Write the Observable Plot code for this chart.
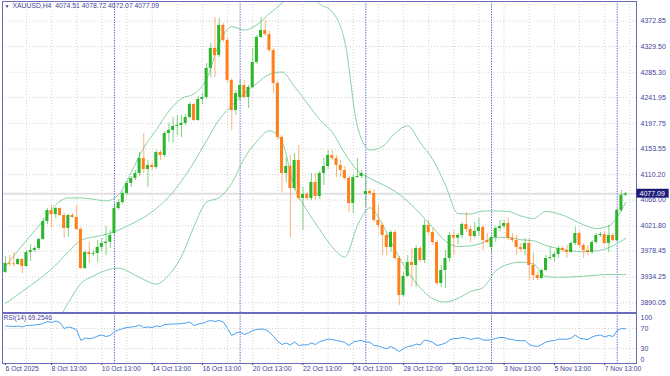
<!DOCTYPE html>
<html><head><meta charset="utf-8">
<script src="https://cdn.jsdelivr.net/npm/d3@7"></script>
<script src="https://cdn.jsdelivr.net/npm/@observablehq/plot@0.6"></script>
<style>
html,body{margin:0;padding:0;background:#fff;}
#wrap{position:relative;width:670px;height:376px;overflow:hidden;background:#fff;}
#main,#rsi{position:absolute;left:0;}
#main{top:0;}
#rsi{top:312px;}
</style></head><body>
<div id="wrap"><div id="main"></div><div id="rsi"></div></div>
<script>
// ---------- DATA ----------
const symbol = "XAUUSD,H4";
const lastBar = {open: 4074.51, high: 4078.72, low: 4072.07, close: 4077.09};
const rsiLast = 69.2546;

const opens = [3942.0,3957.5,3956.6,3955.7,3964.3,3952.3,3976.3,3979.7,3983.1,3998.6,
4029.4,4048.3,4041.4,4051.7,4039.7,4017.4,4039.7,4036.3,4015.7,3948.8,
3976.3,3972.9,3974.6,3985.0,3991.7,3994.0,4008.8,4051.7,4062.0,4077.4,
4094.6,4103.2,4111.7,4137.4,4118.6,4125.4,4122.0,4147.7,4142.6,4180.3,
4185.5,4192.3,4194.0,4197.5,4207.7,4230.0,4202.6,4238.6,4242.0,4291.8,
4326.1,4314.0,4365.5,4339.8,4271.2,4219.7,4242.0,4262.6,4242.0,4259.2,
4302.0,4344.9,4356.9,4350.0,4322.6,4266.0,4173.5,4111.7,4123.7,4086.0,
4134.0,4068.9,4075.7,4068.9,4096.3,4072.3,4111.7,4123.7,4142.6,4137.4,
4125.4,4116.9,4103.2,4060.3,4104.9,4106.6,4075.7,4080.9,4077.4,4031.2,
4022.6,4005.4,3984.9,4010.6,3966.0,3902.5,3935.1,3959.2,3954.0,3983.1,
3962.6,4022.6,4010.6,3993.4,3923.1,3945.4,3966.0,4005.4,4001.0,4005.4,
4024.3,4015.7,4003.7,4012.3,4019.1,3996.9,3984.9,4002.0,4017.4,4020.9,
4026.0,4000.3,3996.9,3984.9,3981.4,3991.7,3954.0,3936.8,3931.7,3945.4,
3966.0,3967.7,3972.9,3983.1,3979.7,3976.3,3991.7,4008.8,3988.3,3979.7,
3976.3,3993.4,4005.4,4007.1,3991.7,4005.4,3996.9,4048.3,4074.51];
const highs = [3969.4,3971.1,3976.3,3966.0,3966.0,3979.7,3990.0,3986.6,4000.3,4034.6,
4051.7,4056.9,4053.4,4053.4,4043.1,4041.4,4043.1,4056.9,4019.1,3979.7,
3993.4,3979.7,3996.9,4000.3,4020.9,4014.0,4056.9,4067.1,4080.9,4098.0,
4106.6,4116.9,4147.7,4180.3,4134.0,4130.6,4151.2,4151.2,4183.7,4197.5,
4207.7,4211.2,4211.2,4212.9,4233.5,4231.7,4243.8,4248.9,4300.3,4334.6,
4379.2,4377.5,4368.9,4343.2,4274.6,4254.0,4271.2,4271.2,4262.6,4326.1,
4348.3,4379.2,4374.1,4355.2,4326.1,4269.5,4176.9,4139.2,4142.6,4146.0,
4159.7,4087.7,4079.1,4111.7,4111.7,4115.2,4137.4,4151.2,4151.2,4142.6,
4134.0,4123.7,4106.6,4108.3,4137.4,4116.9,4111.7,4084.3,4084.3,4056.9,
4026.0,4008.8,4014.0,4014.0,3969.4,3942.0,3971.1,3983.1,3988.3,3986.6,
4031.2,4031.2,4017.4,3996.9,3954.0,3979.7,4010.6,4014.0,4008.8,4027.7,
4044.9,4020.9,4027.7,4034.6,4022.6,4008.8,4005.4,4020.9,4031.2,4031.2,
4034.6,4008.8,4005.4,3991.7,4000.3,4000.3,3974.6,3942.0,3948.8,3971.1,
3985.0,3976.3,3986.6,3986.6,3988.3,3995.1,4019.1,4012.3,3991.7,3988.3,
3996.9,4008.8,4010.6,4012.3,4022.6,4008.8,4051.7,4082.6,4078.72];
const lows = [3940.3,3952.3,3952.3,3954.0,3940.3,3950.6,3960.9,3976.3,3979.7,3996.9,
4024.3,4019.1,4034.6,4038.0,4000.3,4002.0,4034.6,4014.0,3947.1,3947.1,
3957.5,3969.4,3959.2,3976.3,3971.1,3983.1,4006.0,4048.3,4058.6,4074.0,
4087.7,4099.7,4106.6,4111.7,4087.7,4116.9,4118.6,4134.0,4139.2,4164.9,
4163.2,4176.9,4173.4,4194.0,4204.3,4200.9,4200.9,4230.0,4238.6,4276.3,
4276.3,4310.6,4336.3,4267.7,4185.5,4211.2,4236.9,4240.3,4223.2,4257.4,
4298.6,4343.2,4346.6,4319.2,4248.9,4170.0,4079.1,4096.3,4002.0,4082.6,
4065.4,4014.0,4065.4,4065.4,4065.4,4067.1,4091.2,4118.6,4134.0,4104.9,
4104.9,4099.7,4044.9,4043.1,4103.2,4103.2,4053.4,4074.0,4027.7,4017.4,
3971.1,3971.1,3976.3,3962.6,3885.4,3899.1,3933.4,3918.0,3916.3,3959.2,
3957.5,4005.4,3988.3,3919.7,3916.3,3914.6,3959.2,3971.1,3990.0,4000.3,
4010.6,3993.4,4000.3,4003.7,3979.7,3991.7,3974.6,3993.4,4012.3,4017.4,
3996.9,3993.4,3971.1,3976.3,3971.1,3928.3,3928.3,3928.3,3930.0,3943.7,
3962.6,3959.2,3966.0,3976.3,3966.0,3974.6,3988.3,3984.9,3966.0,3971.1,
3972.9,3990.0,4002.0,3990.0,3976.3,3995.1,3993.4,4044.9,4072.07];
const closes = [3957.5,3956.6,3955.7,3964.3,3952.3,3976.3,3979.7,3983.1,3998.6,4029.4,
4048.3,4041.4,4051.7,4039.7,4017.4,4039.7,4036.3,4015.7,3948.8,3976.3,
3972.9,3974.6,3985.0,3991.7,3994.0,4005.4,4051.7,4062.0,4077.4,4094.6,
4103.2,4111.7,4137.4,4118.6,4125.4,4122.0,4147.7,4142.6,4180.3,4185.5,
4192.3,4194.0,4197.5,4207.7,4230.0,4202.6,4238.6,4242.0,4291.8,4326.1,
4314.0,4365.5,4339.8,4271.2,4219.7,4248.9,4262.6,4242.0,4259.2,4302.0,
4344.9,4356.9,4350.0,4322.6,4266.0,4173.5,4111.7,4123.7,4086.0,4134.0,
4068.9,4075.7,4068.9,4096.3,4072.3,4111.7,4123.7,4142.6,4137.4,4125.4,
4116.9,4103.2,4060.3,4104.9,4106.6,4111.7,4080.9,4077.4,4031.2,4022.6,
4005.4,3984.9,4010.6,3966.0,3902.5,3935.1,3959.2,3954.0,3983.1,3962.6,
4022.6,4010.6,3993.4,3923.1,3945.4,3966.0,4005.4,4001.0,4005.4,4024.3,
4015.7,4003.7,4012.3,4019.1,3996.9,3993.4,4002.0,4017.4,4020.9,4026.0,
4000.3,3996.9,3984.9,3981.4,3991.7,3954.0,3936.8,3931.7,3945.4,3966.0,
3967.7,3972.9,3983.1,3979.7,3976.3,3991.7,4008.8,3988.3,3979.7,3976.3,
3993.4,4005.4,4007.1,3991.7,4005.4,3996.9,4048.3,4074.51,4077.09];

const rsiValues = [75,74.5,74,75,73,76,76.5,77,78,80,
84,82,85,82,70,73,71,67,46,51,
50,51,55,57,54,56,64,67,70,72,
73,74,77,72,73,72,75,74,78,78.5,
79,79,80,81,83,76,79,80,84,86,
84,86,83,70,56,61,63,58,61,66,
68,69,68,63,54,44,38,41,37,43,
36,37.5,37,41,38,44,46,49,48,46,
44.5,42,36,43,45,46,43,42.5,36,35,
32,29.5,34,29,24,30,34,35,39,37,
47,45,42,36,38,41,47,50,50,52,
51,48,50,51,47,46.5,48,50,52,52,
49,48,46,45.5,46,38,35,34,38,43,
45,46,49,48.5,48.5,51,57,51,49,48,
53,56,57,53,56,54,66,70,69.25];

// Bollinger Bands (20,2) read at every third bar
const bandBars = [0,3,6,9,12,15,18,21,24,27,30,33,36,39,42,45,48,51,54,57,60,63,66,69,72,75,78,81,84,87,90,93,96,99,102,105,108,111,114,117,120,123,126,129,132,135,138,141,144,147,148];
const upperBand = [3952.3,3979.7,4005.3,4030.5,4058.4,4069.7,4069.9,4067.5,4064.7,4075.2,4113.5,4156.0,4186.7,4218.7,4240.3,4248.2,4273.7,4334.8,4363.5,4357.6,4366.7,4385.9,4404.2,4428.2,4422.1,4402.3,4388.8,4337.2,4192.3,4151.9,4158.2,4180.9,4193.5,4164.4,4135.6,4092.0,4043.0,4042.3,4047.3,4047.5,4046.6,4039.0,4034.6,4046.6,4042.6,4034.1,4023.7,4017.4,4021.8,4049.0,4062.0];
const middleBand = [3888.9,3904.3,3919.7,3935.8,3954.9,3977.5,3997.0,4002.9,4007.3,4014.7,4025.0,4036.3,4051.7,4071.8,4098.8,4131.3,4168.1,4204.1,4228.2,4248.9,4266.2,4281.8,4285.7,4260.6,4232.3,4204.3,4182.4,4146.1,4116.9,4103.4,4092.7,4080.9,4064.0,4042.6,4019.0,3995.9,3986.6,3987.6,3993.3,4002.3,4002.2,3998.1,3996.4,3988.2,3983.0,3979.2,3977.6,3979.0,3984.4,3996.0,4000.3];
const lowerBand = [3822.0,3827.1,3832.3,3841.1,3855.1,3890.2,3923.3,3936.0,3945.8,3949.4,3941.3,3929.8,3922.1,3937.9,3969.4,4021.1,4062.8,4070.3,4094.9,4137.7,4166.9,4185.0,4165.7,4087.7,4048.3,4015.8,3985.4,3968.7,4022.6,4052.9,4024.0,3980.8,3943.5,3915.8,3896.9,3891.4,3897.7,3909.4,3916.1,3944.5,3956.1,3959.7,3956.4,3935.1,3933.6,3934.3,3935.6,3937.3,3938.5,3938.5,3938.5];

const priceTicks = [4372.85,4329.50,4285.30,4241.95,4197.75,4153.55,4110.20,4066.00,4021.80,3978.45,3934.25,3890.05];
const rsiLevels = [70, 30];
const rsiTopLabel = [100];
const rsiBottomLabel = [0];
const dateLabelBars = [0,11,23,35,47,59,71,83,95,107,119,131,143];
const dateLabels = ["6 Oct 2025","8 Oct 13:00","10 Oct 13:00","14 Oct 13:00","16 Oct 13:00","20 Oct 13:00","22 Oct 13:00","24 Oct 13:00","28 Oct 12:00","30 Oct 12:00","3 Nov 13:00","5 Nov 13:00","7 Nov 13:00"];
const gridBars = [5,11,17,23,29,35,41,47,53,59,65,71,77,83,89,95,101,107,113,119,125,131,137,143,149];
const weekStartBars = [26,56,86,116,146];

// ---------- STYLE ----------
const GREEN = "#2db52d", ORANGE = "#ff7f1a", BAND = "#86d2a6", RSI_C = "#4a9ff0";
const BORDER = "#6b6bbd", TEXT = "#3f3f9c", GRID = "#d2d2d2", SEP = "#5c5cd0";
const FONT = "'Liberation Sans', Arial, sans-serif";
const XDOM = [-0.716, 150.6];

const bars = opens.map((o, i) => ({i, o, h: highs[i], l: lows[i], c: closes[i], up: closes[i] >= o}));
const upBars = bars.filter(d => d.up), dnBars = bars.filter(d => !d.up);
const bodyEnd = d => Math.abs(d.c - d.o) < 1.2 ? d.o + (d.up ? 1.2 : -1.2) : d.c;
const bands = bandBars.map((b, k) => ({b, u: upperBand[k], m: middleBand[k], l: lowerBand[k]}));
const rsi = rsiValues.map((v, i) => ({i, v}));

const header = `${symbol}\u00a0\u00a0${lastBar.open.toFixed(2)} ${lastBar.high.toFixed(2)} ${lastBar.low.toFixed(2)} ${lastBar.close.toFixed(2)}`;

const mainPlot = Plot.plot({
  width: 670, height: 313,
  marginLeft: 2, marginRight: 34, marginTop: 1, marginBottom: 1,
  x: {domain: XDOM, axis: null, label: null},
  y: {domain: [3873.4, 4406.6], label: null},
  style: {fontFamily: FONT, fontSize: "7px", color: TEXT, background: "transparent", overflow: "visible"},
  marks: [
    Plot.ruleY(priceTicks, {stroke: GRID, strokeDasharray: "1,2"}),
    Plot.ruleX(gridBars, {stroke: GRID, strokeDasharray: "1,2"}),
    Plot.ruleY([lastBar.close], {stroke: "#e0e0e0", strokeWidth: 2}),
    Plot.ruleX(weekStartBars, {stroke: SEP, strokeDasharray: "1.3,1.3"}),
    Plot.line(bands, {x: "b", y: "u", stroke: BAND, strokeWidth: 1, curve: "monotone-x", clip: true}),
    Plot.line(bands, {x: "b", y: "m", stroke: BAND, strokeWidth: 1, curve: "monotone-x", clip: true}),
    Plot.line(bands, {x: "b", y: "l", stroke: BAND, strokeWidth: 1, curve: "monotone-x", clip: true}),
    Plot.ruleX(upBars, {x: "i", y1: "l", y2: "h", stroke: GREEN, strokeOpacity: 0.6}),
    Plot.ruleX(dnBars, {x: "i", y1: "l", y2: "h", stroke: ORANGE, strokeOpacity: 0.6}),
    Plot.rect(upBars, {x1: d => d.i - 0.36, x2: d => d.i + 0.36, y1: "o", y2: bodyEnd, fill: GREEN}),
    Plot.rect(dnBars, {x1: d => d.i - 0.36, x2: d => d.i + 0.36, y1: "o", y2: bodyEnd, fill: ORANGE}),
    Plot.frame({stroke: BORDER}),
    Plot.axisY(priceTicks, {anchor: "right", label: null, tickSize: 0, tickPadding: 4, tickFormat: d => d.toFixed(2), fontSize: 7}),
    Plot.rect([lastBar.close], {x1: () => XDOM[1] + 0.1, x2: () => XDOM[1] + 7.8, y1: d => d - 7.6, y2: d => d + 7.6, fill: "#1c1c78"}),
    Plot.text([lastBar.close], {x: () => XDOM[1], y: d => d, dx: 3, textAnchor: "start", text: d => d.toFixed(2), fill: "white", fontSize: 7}),
    Plot.text(["\u25BC"], {frameAnchor: "top-left", dx: 2, dy: 3, lineAnchor: "top", textAnchor: "start", text: d => d, fontSize: 5, fill: TEXT}),
    Plot.text([header], {frameAnchor: "top-left", dx: 10, dy: 2, lineAnchor: "top", textAnchor: "start", text: d => d, fontSize: 6.8, fill: TEXT})
  ]
});
document.getElementById("main").appendChild(mainPlot);

const rsiPlot = Plot.plot({
  width: 670, height: 64,
  marginLeft: 2, marginRight: 34, marginTop: 1, marginBottom: 13,
  x: {domain: XDOM, label: null},
  y: {domain: [0, 100], label: null},
  style: {fontFamily: FONT, fontSize: "7px", color: TEXT, background: "transparent", overflow: "visible"},
  marks: [
    Plot.ruleY(rsiLevels, {stroke: GRID, strokeDasharray: "1,2"}),
    Plot.ruleX(gridBars, {stroke: GRID, strokeDasharray: "1,2"}),
    Plot.ruleX(weekStartBars, {stroke: SEP, strokeDasharray: "1.3,1.3"}),
    Plot.line(rsi, {x: "i", y: "v", stroke: RSI_C, strokeWidth: 1}),
    Plot.frame({stroke: BORDER}),
    Plot.axisY(rsiLevels, {anchor: "right", label: null, tickSize: 0, tickPadding: 4, fontSize: 7}),
    Plot.text(rsiTopLabel, {y: d => d, frameAnchor: "right", dx: 4, dy: 4.5, textAnchor: "start", text: d => String(d), fontSize: 7, fill: TEXT}),
    Plot.text(rsiBottomLabel, {y: d => d, frameAnchor: "right", dx: 4, dy: -4, textAnchor: "start", text: d => String(d), fontSize: 7, fill: TEXT}),
    Plot.text([`RSI(14) ${rsiLast.toFixed(4)}`], {frameAnchor: "top-left", dx: 1, dy: 2, lineAnchor: "top", textAnchor: "start", text: d => d, fontSize: 6.6, fill: TEXT}),
    Plot.axisX(dateLabelBars, {anchor: "bottom", label: null, tickSize: 2, tickPadding: 1, textAnchor: "start", tickFormat: d => dateLabels[dateLabelBars.indexOf(d)], fontSize: 6.8})
  ]
});
document.getElementById("rsi").appendChild(rsiPlot);
</script>
</body></html>
